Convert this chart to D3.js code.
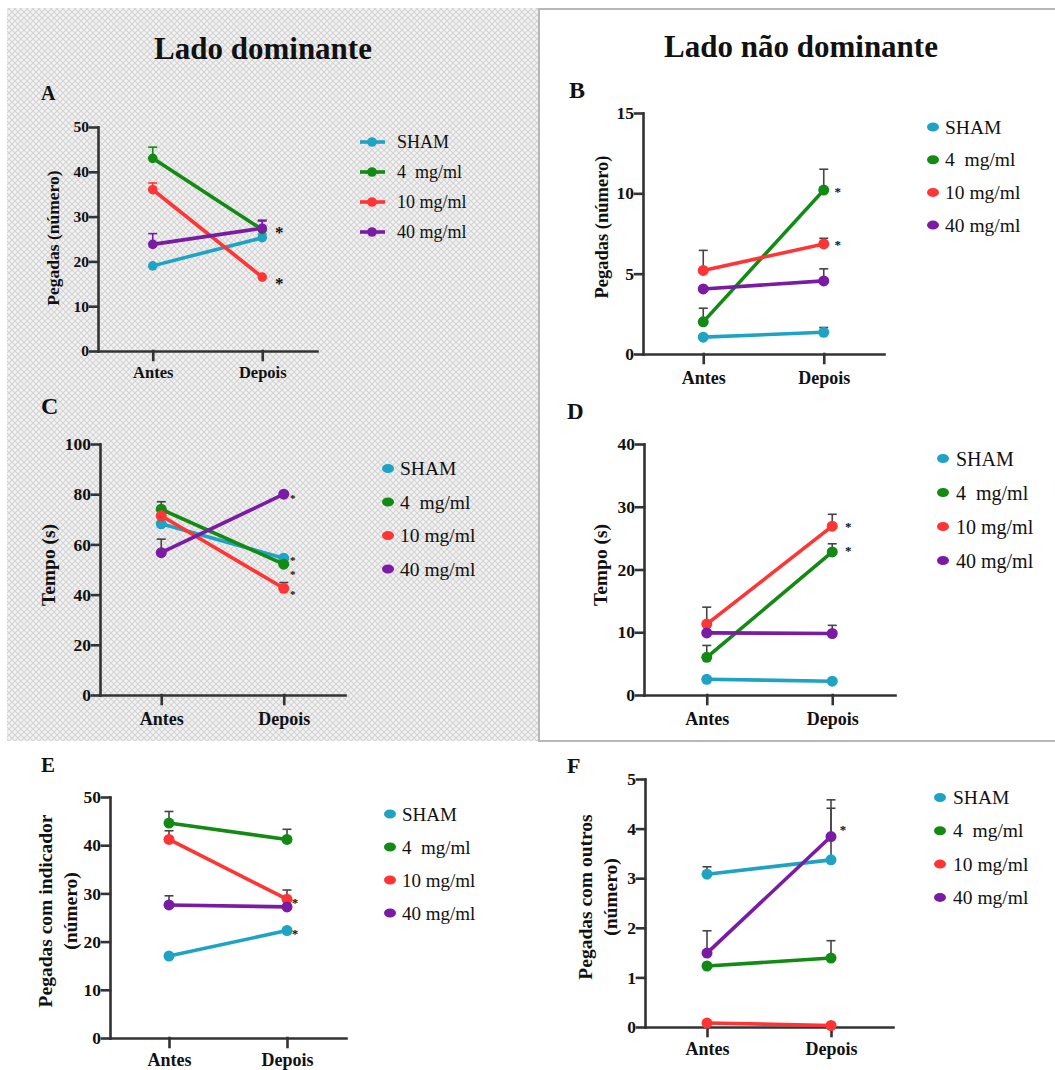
<!DOCTYPE html>
<html>
<head>
<meta charset="utf-8">
<script src="https://cdn.jsdelivr.net/npm/d3@7"></script>
<style>
  body { margin: 0; background: #fff; }
  text { font-family: "Liberation Serif", "Times New Roman", serif; fill: #111; }
</style>
</head>
<body>
<script>
// groups and phases
var groups = ["SHAM", "4\u00a0 mg/ml", "10 mg/ml", "40 mg/ml"];
var phases = ["Antes", "Depois"];
var colors = ["#1fa3c4", "#128a14", "#ff3535", "#7a1ba6"];

// means [antes, depois] per group, and the upper error (SEM)
var meanA = [[19, 25.3], [43, 27.1], [36, 16.5], [23.8, 27.4]];
var semA  = [[0, 0.8], [2.5, 1.9], [1.5, 0], [2.4, 1.8]];
var meanB = [[1.05, 1.35], [2.0, 10.2], [5.2, 6.85], [4.05, 4.55]];
var semB  = [[0, 0.3], [0.85, 1.3], [1.25, 0.35], [0, 0.75]];
var meanC = [[68.2, 54.5], [74, 52.1], [71.4, 42.5], [56.7, 80]];
var semC  = [[0, 0], [3, 0], [0, 2.3], [5.4, 0]];
var meanD = [[2.5, 2.2], [6, 22.8], [11.3, 26.9], [9.9, 9.8]];
var semD  = [[0, 0], [1.9, 1.3], [2.7, 1.9], [0, 1.3]];
var meanE = [[17, 22.3], [44.6, 41.2], [41.2, 28.8], [27.6, 27.2]];
var semE  = [[0, 0], [2.4, 2.1], [1.8, 1.9], [1.9, 0]];
var meanF = [[3.08, 3.37], [1.23, 1.39], [0.08, 0.03], [1.49, 3.84]];
var semF  = [[0.15, 1.04], [0, 0.35], [0, 0], [0.45, 0.74]];

// significance stars: [group index, value where the star sits]
var starA = [[1, 26.9], [2, 15.5]];
var starB = [[1, 10.2], [2, 6.9]];
var starC = [[3, 79], [0, 54], [1, 48.7], [2, 40.5]];
var starD = [[2, 27], [1, 23.2]];
var starE = [[2, 28.3], [0, 21.9]];
var starF = [[3, 4.0]];

// y ticks
var ticksA = [0, 10, 20, 30, 40, 50];
var ticksB = [0, 5, 10, 15];
var ticksC = [0, 20, 40, 60, 80, 100];
var ticksD = [0, 10, 20, 30, 40];
var ticksE = [0, 10, 20, 30, 40, 50];
var ticksF = [0, 1, 2, 3, 4, 5];

var svg = d3.select("body").append("svg")
  .attr("width", 1055).attr("height", 1070);

// crosshatch background of the left block
var pat = svg.append("defs").append("pattern")
  .attr("id", "hatch").attr("patternUnits", "userSpaceOnUse")
  .attr("width", 6).attr("height", 6);
pat.append("rect").attr("width", 6).attr("height", 6).attr("fill", "#f2f2f2");
pat.append("path").attr("d", "M0,0L6,6M6,0L0,6")
  .attr("stroke", "#d4d4d4").attr("stroke-width", 1.1);

svg.append("rect").attr("x", 7).attr("y", 8).attr("width", 532).attr("height", 733)
  .attr("fill", "url(#hatch)");
svg.append("rect").attr("x", 539).attr("y", 9).attr("width", 530).attr("height", 732)
  .attr("fill", "#fff").attr("stroke", "#b8b8b8").attr("stroke-width", 2);

// column titles
svg.append("text").attr("x", 263).attr("y", 59).attr("text-anchor", "middle")
  .style("font-size", "31px").style("font-weight", "bold").text("Lado dominante");
svg.append("text").attr("x", 801).attr("y", 57).attr("text-anchor", "middle")
  .style("font-size", "31px").style("font-weight", "bold").text("Lado não dominante");

var panels = [
  { letter: "A", lx: 41, ly: 99.5, lfs: 20, mean: meanA, sem: semA, stars: starA, ticks: ticksA, max: 50,
    x0: 98, x1: 317, yTop: 127, yBot: 351, tickFs: 15.5, xlabFs: 16.5, xlabY: 27,
    ylab: ["Pegadas (número)"], ylabX: [53], ylabY: 238, ylabFs: 17.5,
    legX: 372, legTx: 397, legY: 142, legStep: 30, legFs: 18, legLine: true,
    r: 4.8, lw: 3.6, errColor: null, starDx: 17, starFs: 17 },
  { letter: "B", lx: 569, ly: 98, lfs: 24, mean: meanB, sem: semB, stars: starB, ticks: ticksB, max: 15,
    x0: 643, x1: 884, yTop: 113, yBot: 354, tickFs: 17.5, xlabFs: 18, xlabY: 30,
    ylab: ["Pegadas (número)"], ylabX: [602], ylabY: 227, ylabFs: 18.5,
    legX: 933, legTx: 945, legY: 127, legStep: 32.7, legFs: 19.5, legLine: false,
    r: 5.5, lw: 3.6, errColor: "#444", starDx: 14, starFs: 13 },
  { letter: "C", lx: 41, ly: 414, lfs: 24, mean: meanC, sem: semC, stars: starC, ticks: ticksC, max: 100,
    x0: 100, x1: 345, yTop: 444, yBot: 695, tickFs: 17.5, xlabFs: 18, xlabY: 30,
    ylab: ["Tempo (s)"], ylabX: [48], ylabY: 565, ylabFs: 19.5,
    legX: 388, legTx: 400, legY: 468.5, legStep: 33.5, legFs: 19.5, legLine: false,
    r: 5.5, lw: 3.6, errColor: "#444", starDx: 9, starFs: 11 },
  { letter: "D", lx: 567, ly: 419, lfs: 23, mean: meanD, sem: semD, stars: starD, ticks: ticksD, max: 40,
    x0: 644, x1: 895, yTop: 444, yBot: 695, tickFs: 17.5, xlabFs: 18, xlabY: 30,
    ylab: ["Tempo (s)"], ylabX: [600], ylabY: 565, ylabFs: 19.5,
    legX: 943, legTx: 956, legY: 458.5, legStep: 34, legFs: 20, legLine: false,
    r: 5.5, lw: 3.6, errColor: "#444", starDx: 16, starFs: 13 },
  { letter: "E", lx: 41, ly: 772, lfs: 21, mean: meanE, sem: semE, stars: starE, ticks: ticksE, max: 50,
    x0: 110, x1: 346, yTop: 797, yBot: 1038, tickFs: 17.5, xlabFs: 18, xlabY: 28,
    ylab: ["Pegadas com indicador", "(número)"], ylabX: [45, 70], ylabY: 911, ylabFs: 19.5,
    legX: 390, legTx: 402, legY: 814, legStep: 33, legFs: 19, legLine: false,
    r: 5.5, lw: 3.6, errColor: "#444", starDx: 8, starFs: 13 },
  { letter: "F", lx: 567, ly: 773, lfs: 22, mean: meanF, sem: semF, stars: starF, ticks: ticksF, max: 5,
    x0: 645, x1: 893, yTop: 779, yBot: 1027, tickFs: 17.5, xlabFs: 18, xlabY: 28,
    ylab: ["Pegadas com outros", "(número)"], ylabX: [585, 610], ylabY: 897, ylabFs: 19.5,
    legX: 940, legTx: 953, legY: 797.5, legStep: 33.3, legFs: 19.5, legLine: false,
    r: 5.5, lw: 3.6, errColor: "#444", starDx: 12, starFs: 13 }
];

panels.forEach(drawPanel);

function drawPanel(p) {
  var g = svg.append("g");
  var x = d3.scalePoint().domain(phases).range([p.x0, p.x1]).padding(0.5);
  var y = d3.scaleLinear().domain([0, p.max]).range([p.yBot, p.yTop]);

  g.append("text").attr("x", p.lx).attr("y", p.ly)
    .style("font-size", p.lfs + "px").style("font-weight", "bold").text(p.letter);

  // axes
  var ya = g.append("g").attr("transform", "translate(" + p.x0 + ",0)")
    .call(d3.axisLeft(y).tickValues(p.ticks).tickFormat(d3.format("d"))
      .tickSize(8).tickSizeOuter(0).tickPadding(1));
  var xa = g.append("g").attr("transform", "translate(0," + p.yBot + ")")
    .call(d3.axisBottom(x).tickSize(9).tickSizeOuter(0));
  [ya, xa].forEach(function(a) {
    a.selectAll("path, line").attr("stroke", "#333").attr("stroke-width", 2.6)
      .attr("stroke-linecap", "square");
    a.selectAll("text").attr("fill", "#111").style("font-weight", "bold")
      .style("font-family", "'Liberation Serif', 'Times New Roman', serif");
  });
  ya.selectAll("text").style("font-size", p.tickFs + "px");
  xa.selectAll("text").style("font-size", p.xlabFs + "px").attr("y", p.xlabY).attr("dy", 0);

  // y label
  p.ylab.forEach(function(t, i) {
    g.append("text")
      .attr("transform", "translate(" + p.ylabX[i] + "," + p.ylabY + ") rotate(-90)")
      .attr("text-anchor", "middle").attr("dominant-baseline", "central")
      .style("font-size", p.ylabFs + "px").style("font-weight", "bold").text(t);
  });

  // error bars
  p.mean.forEach(function(m, s) {
    m.forEach(function(v, i) {
      var e = p.sem[s][i];
      if (!e) return;
      var cx = x(phases[i]), top = y(v + e);
      var col = p.errColor || colors[s];
      g.append("line").attr("x1", cx).attr("x2", cx).attr("y1", y(v)).attr("y2", top)
        .attr("stroke", col).attr("stroke-width", 1.6);
      g.append("line").attr("x1", cx - 4.5).attr("x2", cx + 4.5).attr("y1", top).attr("y2", top)
        .attr("stroke", col).attr("stroke-width", 1.6);
    });
  });

  // lines and markers
  var line = d3.line().x(function(d, i) { return x(phases[i]); }).y(function(d) { return y(d); });
  p.mean.forEach(function(m, s) {
    g.append("path").attr("d", line(m)).attr("fill", "none")
      .attr("stroke", colors[s]).attr("stroke-width", p.lw);
    g.selectAll(null).data(m).enter().append("circle")
      .attr("cx", function(d, i) { return x(phases[i]); })
      .attr("cy", function(d) { return y(d); })
      .attr("r", p.r).attr("fill", colors[s]);
  });

  // stars
  p.stars.forEach(function(st) {
    g.append("text").attr("x", x("Depois") + p.starDx)
      .attr("y", y(st[1]) + p.starFs * 0.45)
      .attr("text-anchor", "middle").style("font-size", p.starFs + "px")
      .style("font-weight", "bold").text("*");
  });

  // legend
  groups.forEach(function(name, i) {
    var ly = p.legY + i * p.legStep;
    if (p.legLine) {
      g.append("line").attr("x1", p.legX - 12).attr("x2", p.legX + 13).attr("y1", ly).attr("y2", ly)
        .attr("stroke", colors[i]).attr("stroke-width", p.lw);
      g.append("circle").attr("cx", p.legX).attr("cy", ly).attr("r", 4.8).attr("fill", colors[i]);
    } else {
      g.append("ellipse").attr("cx", p.legX).attr("cy", ly).attr("rx", 6).attr("ry", 4.5)
        .attr("fill", colors[i]);
    }
    g.append("text").attr("x", p.legTx).attr("y", ly).attr("dominant-baseline", "central")
      .style("font-size", p.legFs + "px").text(name);
  });
}
</script>
</body>
</html>
